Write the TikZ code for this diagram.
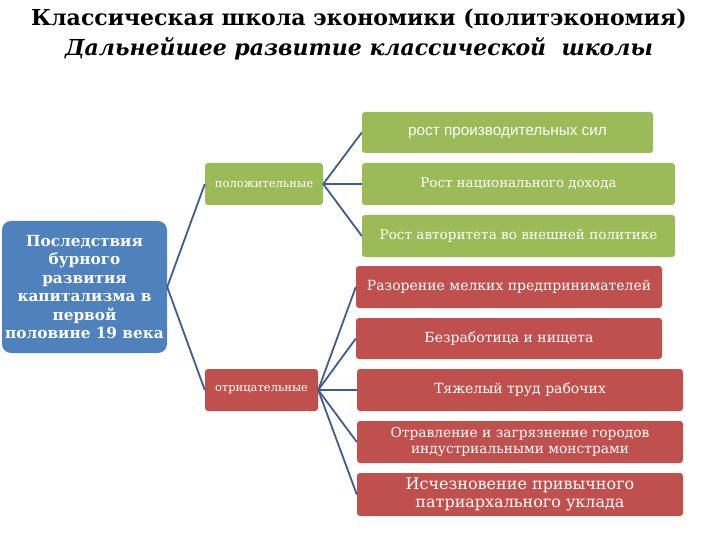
\documentclass[tikz,border=0pt]{standalone}
\usepackage{fontspec}
\setmainfont{DejaVu Serif}
\newfontfamily\boxsans{Liberation Sans}

\definecolor{plusgreen}{RGB}{155,187,89}
\definecolor{minusred}{RGB}{192,80,77}
\definecolor{mainblue}{RGB}{79,129,189}
\definecolor{linkblue}{RGB}{62,92,142}

\tikzset{
	item/.style={rounded corners=3pt, inner sep=0pt, align=center, text=white},
	plus/.style={item, fill=plusgreen},
	minus/.style={item, fill=minusred},
	link/.style={draw=linkblue, line width=1.8pt}
}

\begin{document}
\begin{tikzpicture}[x=1pt, y=-1pt]
	\useasboundingbox (0, 0) rectangle (720, 540);

	\node[font=\fontsize{22}{26}\selectfont\bfseries] (title) at (359, 19) {Классическая школа экономики (политэкономия)};
	\node[font=\fontsize{22}{26}\selectfont\bfseries\itshape] (subtitle) at (359, 49) {Дальнейшее развитие классической\ \ школы};

	\node[item, fill=mainblue, rounded corners=9pt, minimum width=165, minimum height=132, font=\fontsize{15.3}{18.4}\selectfont\bfseries] (main) at (84.5, 287) {Последствия\\бурного\\развития\\капитализма в\\первой\\половине 19 века};

	\node[plus, minimum width=118, minimum height=42, font=\fontsize{11.6}{13}\selectfont] (pos) at (264, 184) {положительные};
	\node[minus, minimum width=113, minimum height=42, font=\fontsize{11.5}{13}\selectfont] (neg) at (261.5, 390) {отрицательные};

	\node[plus, minimum width=291, minimum height=41, font=\boxsans\fontsize{15.3}{17}\selectfont] (growth) at (507.5, 132.5) {рост производительных сил};
	\node[plus, minimum width=313, minimum height=42, font=\fontsize{13.4}{15}\selectfont] (income) at (518.5, 184) {Рост национального дохода};
	\node[plus, minimum width=313, minimum height=42, font=\fontsize{13.6}{15}\selectfont] (prestige) at (518.5, 236) {Рост авторитета во внешней политике};

	\node[minus, minimum width=306, minimum height=42, font=\fontsize{14}{15}\selectfont] (ruin) at (509, 287) {Разорение мелких предпринимателей};
	\node[minus, minimum width=306, minimum height=41, font=\fontsize{14}{15}\selectfont] (poverty) at (509, 338.5) {Безработица и нищета};
	\node[minus, minimum width=326, minimum height=42, font=\fontsize{14}{16}\selectfont] (labour) at (520, 390) {Тяжелый труд рабочих};
	\node[minus, minimum width=326, minimum height=42, font=\fontsize{13.8}{15.5}\selectfont] (smog) at (520, 442) {Отравление и загрязнение городов\\индустриальными монстрами};
	\node[minus, minimum width=326, minimum height=43, font=\fontsize{16}{18.5}\selectfont] (habits) at (520, 494.5) {Исчезновение привычного\\патриархального уклада};

	\draw[link] (main.east) -- (pos.west);
	\draw[link] (main.east) -- (neg.west);

	\draw[link] (pos.east) -- (growth.west);
	\draw[link] (pos.east) -- (income.west);
	\draw[link] (pos.east) -- (prestige.west);

	\draw[link] (neg.east) -- (ruin.west);
	\draw[link] (neg.east) -- (poverty.west);
	\draw[link] (neg.east) -- (labour.west);
	\draw[link] (neg.east) -- (smog.west);
	\draw[link] (neg.east) -- (habits.west);

\end{tikzpicture}
\end{document}
